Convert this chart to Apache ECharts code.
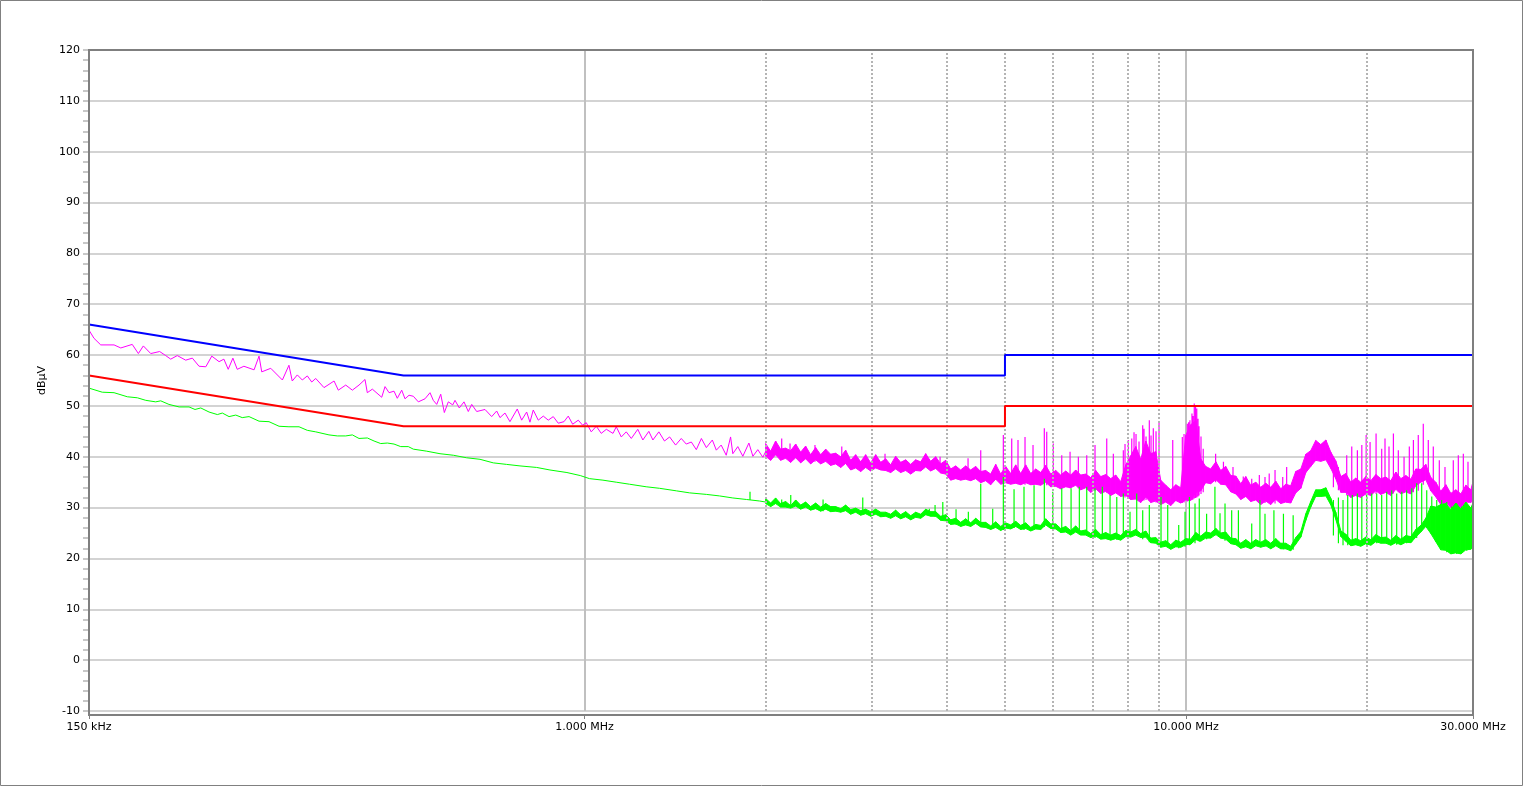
<!DOCTYPE html>
<html><head><meta charset="utf-8">
<script src="https://cdn.jsdelivr.net/npm/echarts@6.0.0/dist/echarts.min.js"></script>
<style>html,body{margin:0;padding:0;background:#fff}#c{width:1524px;height:787px}</style>
</head><body><div id="c"></div>
<script>
// ---------- limit lines (MHz, dBµV) ----------
const limitFreq = [0.15, 0.5, 5, 5, 30];
const limitQP   = [66, 56, 56, 60, 60];
const limitAV   = [56, 46, 46, 50, 50];

// ---------- dashed minor grid frequencies (MHz) ----------
const minorGridFreq = [2, 3, 4, 5, 6, 7, 8, 9, 20];

// ---------- peak trace, 150 kHz – 2 MHz (MHz, dBµV) ----------
const peakLFFreq = [
0.1500,0.1529,0.1569,0.1651,0.1694,0.1770,0.1812,0.1847,0.1900,0.1966,
0.2012,0.2051,0.2103,0.2172,0.2228,0.2286,0.2346,0.2400,0.2468,0.2514,
0.2556,0.2602,0.2646,0.2714,0.2822,0.2876,0.2906,0.3008,0.3145,0.3225,
0.3266,0.3330,0.3394,0.3460,0.3519,0.3573,0.3688,0.3833,0.3896,0.4008,
0.4111,0.4217,0.4315,0.4353,0.4438,0.4600,0.4659,0.4731,0.4822,0.4883,
0.4966,0.5029,0.5107,0.5192,0.5292,0.5429,0.5534,0.5604,0.5678,0.5766,
0.5846,0.5936,0.6037,0.6090,0.6191,0.6303,0.6408,0.6492,0.6617,0.6831,
0.7008,0.7143,0.7234,0.7374,0.7516,0.7729,0.7860,0.8012,0.8114,0.8217,
0.8376,0.8538,0.8703,0.8871,0.9042,0.9242,0.9395,0.9555,0.9762,0.9927,
1.0065,1.026,1.046,1.066,1.087,1.115,1.129,1.151,1.173,1.196,
1.226,1.250,1.279,1.299,1.329,1.358,1.385,1.417,1.448,1.476,
1.505,1.534,1.564,1.594,1.631,1.656,1.687,1.720,1.749,1.764,
1.798,1.833,1.876,1.905,1.941,1.979,2.000];
const peakLF = [
64.9,63.3,62.0,62.0,61.4,62.1,60.3,61.8,60.3,60.7,
59.9,59.2,59.9,59.0,59.4,57.8,57.7,59.8,58.7,59.2,
57.2,59.4,57.2,57.8,57.1,59.8,56.7,57.4,55.1,58.0,
54.9,56.1,55.1,55.9,54.7,55.4,53.6,54.9,53.1,54.1,
53.1,54.1,55.2,52.6,53.3,51.7,53.8,52.6,52.9,51.5,
53.1,51.4,52.1,51.9,50.8,51.4,52.6,51.1,50.3,52.3,
48.7,50.8,50.2,51.1,49.6,50.8,48.9,50.3,48.9,49.3,
47.9,49.0,47.7,48.6,46.9,49.4,47.2,48.8,46.8,49.2,
47.2,48.0,47.2,47.9,46.6,46.9,48.0,46.4,47.2,46.2,
46.7,44.9,46.0,44.6,45.4,44.6,45.9,43.9,44.9,43.6,
45.4,43.3,45.0,43.3,44.9,43.1,43.9,42.3,43.6,42.5,
42.9,41.4,43.6,41.8,43.3,41.3,42.3,40.3,43.9,40.6,
42.0,40.1,42.7,40.1,41.4,39.9,41.0];

// ---------- average trace, 150 kHz – 2 MHz ----------
const avgLFFreq = [
0.1500,0.1578,0.1651,0.1737,0.1805,0.1864,0.1936,0.1974,0.2037,0.2118,
0.2200,0.2251,0.2301,0.2375,0.2452,0.2499,0.2564,0.2631,0.2697,0.2768,
0.2876,0.2988,0.3105,0.3225,0.3352,0.3460,0.3573,0.3759,0.3881,0.4008,
0.4111,0.4217,0.4353,0.4467,0.4583,0.4700,0.4822,0.4947,0.5093,0.5192,
0.5465,0.5750,0.6051,0.6368,0.6701,0.7051,0.7420,0.7810,0.8325,0.8760,
0.9348,0.9840,1.019,1.073,1.129,1.188,1.266,1.332,1.421,1.495,
1.594,1.676,1.764,1.858,1.954,2.000];
const avgLF = [
53.5,52.7,52.6,51.8,51.6,51.1,50.8,51.0,50.3,49.8,
49.8,49.3,49.6,48.8,48.3,48.6,47.9,48.2,47.7,47.9,
47.0,46.9,46.0,45.9,45.9,45.2,44.9,44.3,44.1,44.1,
44.3,43.6,43.7,43.1,42.6,42.7,42.5,42.0,42.0,41.5,
41.1,40.6,40.3,39.8,39.5,38.8,38.5,38.2,37.9,37.4,
36.9,36.3,35.7,35.4,35.0,34.6,34.1,33.8,33.3,32.9,
32.6,32.3,31.9,31.6,31.3,31.1];

// ---------- 2 – 30 MHz: per-bin min/max envelopes ----------
const bandFreq = [
2.000,2.039,2.078,2.118,2.159,2.201,2.244,2.287,2.331,2.376,
2.422,2.469,2.517,2.565,2.615,2.666,2.717,2.770,2.823,2.878,
2.933,2.990,3.048,3.107,3.167,3.228,3.290,3.354,3.419,3.485,
3.552,3.621,3.691,3.762,3.835,3.909,3.985,4.062,4.140,4.220,
4.302,4.385,4.470,4.556,4.644,4.734,4.826,4.919,5.014,5.111,
5.210,5.310,5.413,5.518,5.624,5.733,5.844,5.957,6.072,6.189,
6.309,6.431,6.555,6.682,6.811,6.943,7.077,7.214,7.353,7.496,
7.640,7.788,7.939,8.092,8.249,8.408,8.571,8.736,8.905,9.077,
9.253,9.432,9.614,9.800,9.989,10.18,10.38,10.58,10.78,10.99,
11.21,11.42,11.64,11.87,12.10,12.33,12.57,12.81,13.06,13.31,
13.57,13.83,14.10,14.37,14.65,14.93,15.22,15.52,15.82,16.12,
16.43,16.75,17.08,17.41,17.74,18.09,18.43,18.79,19.15,19.52,
19.90,20.29,20.68,21.08,21.49,21.90,22.33,22.76,23.20,23.65,
24.10,24.57,25.04,25.53,26.02,26.52,27.04,27.56,28.09,28.64,
29.19,29.75,30.00];
const peakHi = [
42.6,41.1,43.1,41.5,41.7,41.2,42.5,40.9,42.1,40.4,
41.8,40.4,41.5,40.5,40.7,40.0,41.3,39.3,40.4,39.0,
40.4,38.8,40.4,38.9,39.6,38.4,40.1,38.9,39.4,38.5,
39.4,39.0,40.6,39.1,40.0,38.6,39.3,37.6,38.2,37.4,
38.2,37.4,38.1,37.1,37.3,36.6,38.5,36.6,38.1,36.7,
38.4,36.7,38.4,36.7,37.6,36.9,38.3,36.6,37.3,36.4,
37.2,36.4,37.4,36.4,36.6,35.9,37.3,36.1,36.5,35.7,
36.4,35.1,38.4,40.2,42.0,39.5,43.1,40.6,41.0,35.4,
34.4,33.5,34.5,33.9,44.2,46.3,47.1,39.6,38.1,37.6,
39.0,37.3,38.1,36.3,36.2,34.7,36.1,34.4,35.0,34.0,
34.8,34.0,35.2,33.7,34.6,34.3,37.1,37.6,40.5,41.2,
43.2,42.4,43.3,40.9,39.2,36.1,36.7,35.0,35.8,35.0,
36.1,35.3,36.5,35.7,36.0,35.3,37.0,35.7,36.3,35.6,
37.6,37.5,38.5,35.9,35.0,33.2,34.5,32.8,33.5,32.7,
34.4,33.5,35.1];
const peakLo = [
40.1,39.3,40.4,39.3,39.7,38.9,39.8,38.8,39.6,38.6,
39.4,38.6,39.1,38.3,38.6,37.9,38.7,37.4,37.8,37.1,
37.9,37.2,37.8,37.4,37.3,36.9,37.6,36.9,37.3,36.6,
37.3,37.2,38.0,37.2,37.7,36.8,36.6,35.4,35.7,35.4,
35.6,35.3,35.7,34.9,35.3,34.5,35.6,34.6,34.9,34.6,
34.8,34.5,34.9,34.5,34.6,34.4,35.0,34.1,34.2,33.7,
34.1,33.9,34.4,33.5,33.9,33.0,33.7,32.8,33.2,32.4,
32.9,32.2,32.4,31.6,31.7,31.0,32.1,31.0,31.3,30.6,
31.1,30.4,31.4,30.9,31.5,31.4,33.0,33.3,34.9,34.7,
35.5,34.6,34.5,33.1,32.7,31.6,32.2,31.2,31.5,30.6,
31.3,30.6,31.6,30.8,31.1,30.9,32.9,33.8,36.9,38.1,
39.3,39.1,39.4,37.7,35.7,33.0,33.0,32.0,32.4,32.0,
32.7,32.4,33.3,32.6,33.0,32.4,33.6,32.7,33.1,32.7,
34.3,35.0,35.5,33.3,32.1,30.6,31.0,30.0,30.4,30.0,
31.2,31.0,31.9];
const avgHi = [
31.8,30.9,31.9,30.8,31.2,30.4,31.5,30.5,31.1,30.2,
30.9,30.1,30.8,30.2,30.2,29.8,30.5,29.6,29.9,29.4,
29.7,29.2,29.7,29.1,29.1,28.7,29.5,28.6,29.2,28.4,
29.1,28.7,29.7,29.2,29.2,28.3,28.6,27.6,27.9,27.1,
27.8,27.0,27.9,27.1,27.1,26.4,27.2,26.3,27.0,26.6,
27.3,26.5,27.0,26.1,26.7,26.5,27.8,26.8,26.8,25.9,
26.3,25.5,26.4,25.4,25.6,24.9,25.7,24.7,25.1,24.6,
25.0,24.5,25.5,25.2,25.7,24.9,25.4,24.0,24.1,23.2,
23.5,22.7,23.6,23.2,23.9,23.8,25.1,24.4,25.2,25.0,
25.9,25.0,25.2,24.0,23.9,23.0,23.7,23.0,23.7,23.2,
23.7,23.0,23.9,23.0,23.0,22.4,24.1,25.3,28.8,31.2,
33.5,33.5,33.9,31.8,29.1,25.4,24.8,23.6,23.9,23.5,
24.2,23.7,24.7,24.1,24.2,23.6,24.5,23.8,24.5,24.3,
25.7,26.5,27.9,30.3,30.1,30.6,30.8,29.6,30.9,29.7,
31.1,29.9,30.9];
const avgLo = [
30.8,30.2,30.8,30.1,30.1,29.9,30.3,29.7,30.1,29.5,
29.8,29.3,29.7,29.2,29.3,29.1,29.4,28.7,29.1,28.5,
28.8,28.3,28.7,28.2,28.3,27.9,28.4,27.8,28.2,27.6,
28.1,27.9,28.6,28.3,28.3,27.5,27.4,26.7,26.8,26.3,
26.6,26.3,26.9,26.2,26.1,25.7,26.1,25.5,26.0,25.8,
26.3,25.7,25.9,25.4,25.8,25.7,26.6,25.9,25.8,25.1,
25.2,24.6,25.2,24.6,24.6,24.1,24.4,23.8,23.9,23.6,
23.9,23.6,24.3,24.2,24.6,24.1,24.2,23.1,23.0,22.2,
22.4,21.8,22.3,22.2,22.7,22.8,23.7,23.4,24.0,24.0,
24.7,24.0,23.8,22.9,22.7,22.0,22.3,21.9,22.5,22.2,
22.5,21.9,22.5,21.9,21.9,21.5,22.8,24.2,27.5,30.1,
32.2,32.2,32.3,30.5,27.7,24.3,23.4,22.5,22.7,22.4,
22.9,22.6,23.3,23.0,23.0,22.6,23.1,22.7,23.2,23.1,
24.2,25.2,26.3,24.9,23.3,21.7,21.6,20.9,21.1,20.9,
21.7,21.8,22.5];

// ---------- narrowband spikes (MHz, base dBµV, peak dBµV) ----------
const peakSpikeFreq = [
2.127,2.196,2.416,2.677,3.159,3.900,4.341,4.557,4.969,5.131,
5.256,5.399,5.567,5.813,5.867,6.017,6.214,6.415,6.622,6.838,
7.058,7.382,7.571,7.866,7.917,8.018,8.124,8.195,8.258,8.353,
8.472,8.514,8.580,8.689,8.746,8.823,8.915,9.018,9.504,9.859,
9.924,10.05,10.10,10.15,10.23,10.27,10.32,10.37,10.42,10.47,
10.51,10.59,10.68,11.20,11.54,11.97,12.45,12.86,13.24,13.53,
13.75,14.06,14.48,14.70,17.58,17.92,18.50,18.86,19.27,19.60,
19.93,20.23,20.70,21.15,21.42,21.75,22.12,22.54,23.04,23.51,
23.88,24.33,24.80,25.28,25.77,26.37,26.95,27.82,28.36,28.91,
29.43,29.96];
const peakSpikeBase = [
39.4,39.3,39.0,38.3,37.3,37.3,35.4,35.1,34.8,34.7,
34.6,34.5,34.6,34.6,34.4,34.1,34.0,33.8,33.8,33.6,
33.3,32.9,32.7,32.3,32.0,31.9,31.8,31.7,31.6,31.5,
31.4,31.4,31.5,31.3,31.3,31.2,31.0,31.0,30.8,30.9,
31.0,31.2,31.3,31.4,31.5,31.6,31.8,31.9,32.0,32.2,
32.4,32.7,33.0,35.0,34.6,33.4,32.0,31.4,31.2,30.9,
30.9,30.8,30.9,31.0,34.0,33.4,32.4,32.2,32.1,32.3,
32.4,32.6,32.7,32.8,32.9,32.8,32.8,33.0,32.9,32.8,
33.0,33.3,34.5,35.0,33.8,32.2,31.0,30.3,30.1,30.3,
30.9,31.2];
const peakSpikePeak = [
43.6,42.6,42.3,42.0,40.6,40.0,39.7,41.3,44.3,43.6,
43.3,43.9,42.3,45.6,44.9,42.6,40.3,41.0,40.0,40.3,
42.3,43.6,40.6,41.3,42.5,43.3,43.6,44.8,44.5,43.0,
46.2,45.5,44.0,47.2,44.2,45.6,45.0,46.9,43.3,43.9,
44.5,46.5,46.8,47.2,48.5,48.0,50.5,49.8,49.5,47.5,
46.0,44.0,41.6,40.6,39.0,38.0,36.1,35.7,36.4,36.0,
36.7,37.4,36.0,38.0,39.3,38.0,40.3,42.0,41.3,42.3,
44.3,42.9,44.6,41.6,43.6,42.0,44.6,41.3,40.0,42.0,
43.3,44.3,46.5,43.3,42.0,39.3,38.0,39.3,40.3,40.6,
39.0,40.3];

const avgSpikeFreq = [
1.884,2.127,2.202,2.492,2.901,3.743,3.826,3.941,4.146,4.346,
4.557,4.771,4.969,5.177,5.378,5.589,5.813,6.003,6.214,6.440,
6.647,6.838,7.058,7.259,7.476,7.671,7.866,8.070,8.280,8.472,
8.689,9.087,9.323,9.724,9.962,10.13,10.35,10.52,10.82,11.17,
11.39,11.61,11.91,12.22,12.86,13.27,13.53,14.00,14.52,15.07,
17.58,17.92,18.24,18.57,18.90,19.27,19.60,19.97,20.36,20.75,
21.15,21.56,21.98,22.40,22.84,23.27,23.73,24.18,24.65,25.13,
25.62,26.11,26.61,27.13,27.65,28.19,28.73,29.29,29.86];
const avgSpikeBase = [
31.5,30.2,30.1,29.3,28.7,28.4,28.2,27.7,26.6,26.5,
26.3,25.9,25.6,26.0,25.6,25.7,26.2,25.6,25.3,24.8,
24.7,24.5,24.0,23.9,23.8,23.7,24.0,24.3,24.4,23.8,
23.2,22.4,22.2,22.0,22.3,22.6,23.0,23.3,23.8,24.5,
24.2,23.5,23.0,22.6,22.0,22.4,22.3,22.2,21.8,21.7,
24.5,23.0,22.6,22.6,22.5,22.6,22.6,22.7,22.8,23.0,
23.1,22.9,22.8,22.7,22.8,23.0,23.3,24.0,25.4,26.0,
25.0,23.2,21.9,21.2,21.0,20.9,21.1,21.5,22.0];
const avgSpikePeak = [
33.1,31.6,32.5,31.6,32.0,29.8,30.5,31.1,29.7,29.2,
34.7,29.8,36.0,33.6,34.1,34.4,35.7,33.1,33.8,33.8,
34.1,34.1,33.8,34.1,32.5,32.1,32.8,29.2,32.8,29.5,
30.5,32.1,30.5,26.6,29.2,32.1,30.8,31.8,28.8,34.1,
28.9,30.8,29.5,29.5,26.9,31.5,28.8,29.5,28.8,28.5,
31.5,32.0,31.5,32.5,32.5,32.8,32.2,32.5,32.8,32.8,
32.5,33.1,33.4,32.8,33.1,33.4,33.8,34.8,34.8,33.4,
32.2,31.5,31.5,31.1,30.2,30.8,30.2,30.8,30.2];

// ---------- colours ----------
const C_PEAK = '#ff00ff', C_AVG = '#00ff00', C_QP = '#0000ff', C_AV = '#ff0000';
const FONT = 'DejaVu Sans';

// ---------- builders ----------
const zip = (xs, ys) => xs.map((x, i) => [x, ys[i]]);
function spikes(xs, base, peak) {
  const out = [];
  xs.forEach((x, i) => { out.push([x, base[i]], [x, peak[i]], [x, '-']); });
  return out;
}
function lineSeries(name, data, color, width, z) {
  return { name, type: 'line', data, symbol: 'none', showSymbol: false, silent: true,
           connectNulls: false, clip: true, z,
           lineStyle: { color, width }, emphasis: { disabled: true } };
}
// min/max envelope drawn as a filled strip between consecutive sweep bins
function bandSeries(name, xs, lo, hi, color, z) {
  return {
    name, type: 'custom', silent: true, clip: true, z,
    data: xs.map((x, i) => [x, lo[i], hi[i]]),
    encode: { x: 0, y: [1, 2] },
    renderItem: (params, api) => {
      const i = params.dataIndex;
      if (i >= xs.length - 1) return null;
      const p = [
        api.coord([xs[i], lo[i]]), api.coord([xs[i + 1], lo[i + 1]]),
        api.coord([xs[i + 1], hi[i + 1]]), api.coord([xs[i], hi[i]])
      ];
      return { type: 'polygon', shape: { points: p },
               style: { fill: color, stroke: color, lineWidth: 1 } };
    }
  };
}

const chart = echarts.init(document.getElementById('c'), null, { renderer: 'canvas' });
chart.setOption({
  animation: false,
  backgroundColor: '#ffffff',
  textStyle: { fontFamily: FONT },
  grid: { left: 89, right: 51, top: 50, bottom: 76, containLabel: false },
  xAxis: {
    type: 'log', logBase: 10, min: 0.15, max: 30, offset: 4,
    axisLine: { show: true, onZero: false, lineStyle: { color: '#7f7f7f', width: 2 } },
    axisTick: { show: true, length: 4, lineStyle: { color: '#7f7f7f', width: 1 } },
    axisLabel: {
      color: '#000', fontSize: 11, fontFamily: FONT, margin: 7,
      showMinLabel: true, showMaxLabel: true, hideOverlap: false,
      formatter: v => v < 1 ? Math.round(v * 1000) + ' kHz' : v.toFixed(3) + ' MHz'
    },
    splitLine: { show: true, lineStyle: { color: '#c0c0c0', width: 2 } },
    minorTick: { show: false }, minorSplitLine: { show: false }
  },
  yAxis: {
    type: 'value', min: -10, max: 120, interval: 10,
    name: 'dBµV', nameLocation: 'middle', nameGap: 33, nameRotate: 90,
    nameTextStyle: { color: '#000', fontSize: 11, fontFamily: FONT },
    axisLine: { show: true, onZero: false, lineStyle: { color: '#7f7f7f', width: 2 } },
    axisTick: { show: true, length: 6, lineStyle: { color: '#c8c8c8', width: 2 } },
    minorTick: { show: true, splitNumber: 5, length: 6, lineStyle: { color: '#c8c8c8', width: 2 } },
    axisLabel: { color: '#000', fontSize: 11, fontFamily: FONT, margin: 9 },
    splitLine: { show: true, lineStyle: { color: '#d3d3d3', width: 2 } }
  },
  graphic: [
    { type: 'rect', silent: true, z: 100,
      shape: { x: 89, y: 50, width: 1384, height: 665 },
      style: { fill: null, stroke: '#7f7f7f', lineWidth: 2 } },
    { type: 'rect', silent: true, z: 100,
      shape: { x: 0.5, y: 0.5, width: 1522, height: 785 },
      style: { fill: null, stroke: '#808080', lineWidth: 1 } }
  ],
  series: [
    { type: 'line', data: [], silent: true, z: 1,
      markLine: { silent: true, symbol: ['none', 'none'], label: { show: false }, animation: false,
        lineStyle: { color: '#b4b4b4', type: [2, 2], width: 2 },
        emphasis: { disabled: true },
        data: minorGridFreq.map(f => ({ xAxis: f })) } },
    lineSeries('Peak LF', zip(peakLFFreq, peakLF), C_PEAK, 1, 3),
    bandSeries('Peak', bandFreq, peakLo, peakHi, C_PEAK, 3),
    lineSeries('Peak spikes', spikes(peakSpikeFreq, peakSpikeBase, peakSpikePeak), C_PEAK, 1.2, 3),
    lineSeries('Avg LF', zip(avgLFFreq, avgLF), C_AVG, 1, 4),
    bandSeries('Avg', bandFreq, avgLo, avgHi, C_AVG, 4),
    lineSeries('Avg spikes', spikes(avgSpikeFreq, avgSpikeBase, avgSpikePeak), C_AVG, 1.2, 4),
    lineSeries('QP limit', zip(limitFreq, limitQP), C_QP, 2, 5),
    lineSeries('AV limit', zip(limitFreq, limitAV), C_AV, 2, 5)
  ]
});
</script></body></html>
